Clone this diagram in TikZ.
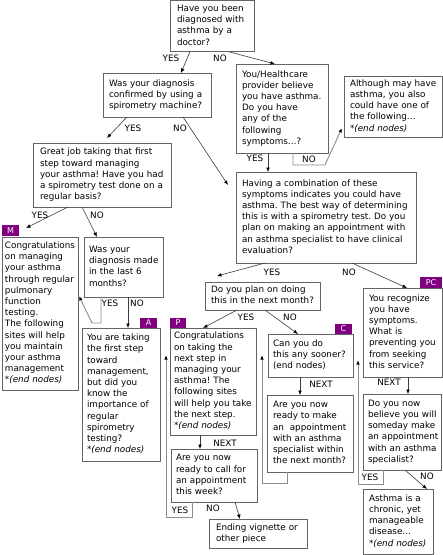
\documentclass[tikz,border=0pt]{standalone}
\usepackage{fontspec}
\setmainfont{DejaVu Sans}
\usetikzlibrary{arrows.meta}
\definecolor{tagpurple}{RGB}{128,0,128}
\definecolor{boxline}{RGB}{100,100,100}
\definecolor{conline}{RGB}{60,60,60}
\definecolor{brkline}{RGB}{140,140,140}
\newcommand\lns[1]{\begin{tabular}{@{}l@{}}#1\end{tabular}}
\frenchspacing
\begin{document}
\begin{tikzpicture}[x=1pt,y=-1pt,
  qbox/.style={draw=boxline, line width=0.9pt, anchor=north west, inner ysep=0pt, outer sep=0pt, align=left, font=\fontsize{8.8}{11.2}\selectfont\frenchspacing, fill=white},
  tag/.style={fill=tagpurple, text=white, anchor=north west, inner sep=0pt, outer sep=0pt, font=\fontsize{8}{9}\selectfont},
  lbl/.style={font=\fontsize{8.8}{11.2}\selectfont, inner sep=0pt},
  arr/.style={draw=conline, line width=0.6pt, -{Latex[length=4.5pt,width=3.6pt,color=black]}},
  brk/.style={draw=brkline, line width=0.9pt, -{Latex[length=4.5pt,width=3.6pt,color=black]}}]
\fill[white] (0,0) rectangle (443,555);
\useasboundingbox (0,0) rectangle (443,555);

% boxes
\node[qbox, inner xsep=7pt, text width=70pt, minimum height=51pt] (q1) at (170,0.5) {\lns{Have you been\\diagnosed with\\asthma by a\\doctor?}};
\node[qbox, inner xsep=6pt, text width=96pt, minimum height=44pt] (q2) at (103,73) {\lns{Was your diagnosis\\confirmed by using a\\spirometry machine?}};
\node[qbox, inner xsep=6pt, text width=80pt, minimum height=89pt] (q3) at (236,64) {\lns{You/Healthcare\\provider believe\\you have asthma.\\Do you have\\any of the\\following\\symptoms…?}};
\node[qbox, inner xsep=6pt, text width=86pt, minimum height=61pt] (q4) at (344,76) {\lns{Although may have\\asthma, you also\\could have one of\\the following…\\\textit{*(end nodes)}}};
\node[qbox, inner xsep=7pt, text width=124pt, minimum height=64pt] (q5) at (33,143) {\lns{Great job taking that first\\step toward managing\\your asthma! Have you had\\a spirometry test done on a\\regular basis?}};
\node[qbox, inner xsep=6pt, text width=168pt, minimum height=91pt] (q6) at (236,172) {\lns{Having a combination of these\\symptoms indicates you could have\\asthma. The best way of determining\\this is with a spirometry test. Do you\\plan on making an appointment with\\an asthma specialist to have clinical\\evaluation?}};
\node[qbox, inner xsep=5pt, text width=69pt, minimum height=60pt] (q7) at (84,237) {\lns{Was your\\diagnosis made\\in the last 6\\months?}};
\node[qbox, inner xsep=3pt, text width=70pt, minimum height=153pt] (M) at (2,237) {\lns{Congratulations\\on managing\\your asthma\\through regular\\pulmonary\\function\\testing.\\The following\\sites will help\\you maintain\\your asthma\\management\\\textit{*(end nodes)}}};
\node[qbox, inner xsep=5pt, text width=68pt, minimum height=133pt] (A) at (82,328) {\lns{You are taking\\the first step\\toward\\management,\\but did you\\know the\\importance of\\regular\\spirometry\\testing?\\\textit{*(end nodes)}}};
\node[qbox, inner xsep=4pt, text width=78pt, minimum height=107pt] (P) at (170,328) {\lns{Congratulations\\on taking the\\next step in\\managing your\\asthma! The\\following sites\\will help you take\\the next step.\\\textit{*(end nodes)}}};
\node[qbox, inner xsep=6pt, text width=103pt, minimum height=28pt] (q8) at (205,282) {\lns{Do you plan on doing\\this in the next month?}};
\node[qbox, inner xsep=5pt, text width=75pt, minimum height=43pt] (C) at (268,334) {\lns{Can you do\\this any sooner?\\*(end nodes)}};
\node[qbox, inner xsep=6pt, text width=67pt, minimum height=89pt] (PC) at (363,288) {\lns{You recognize\\you have\\symptoms.\\What is\\preventing you\\from seeking\\this service?}};
\node[qbox, inner xsep=6pt, text width=74pt, minimum height=77pt] (q10) at (267,395) {\lns{Are you now\\ready to make\\an\ \ appointment\\with an asthma\\specialist within\\the next month?}};
\node[qbox, inner xsep=5pt, text width=68pt, minimum height=76pt] (q9) at (363,394) {\lns{Do you now\\believe you will\\someday make\\an appointment\\with an asthma\\specialist?}};
\node[qbox, inner xsep=5pt, text width=76pt, minimum height=53pt] (q11) at (171,449) {\lns{Are you now\\ready to call for\\an appointment\\this week?}};
\node[qbox, inner xsep=7pt, text width=84pt, minimum height=29pt] (End) at (209,519) {\lns{Ending vignette or\\other piece}};
\node[qbox, inner xsep=6pt, text width=58pt, minimum height=65pt] (As) at (363,489) {\lns{Asthma is a\\chronic, yet\\manageable\\disease…\\\textit{*(end nodes)}}};

% tags
\node[tag, minimum width=17pt, minimum height=11pt] (Mt) at (2,225) {M};
\node[tag, minimum width=17pt, minimum height=10pt] (At) at (140,317.5) {A};
\node[tag, minimum width=16pt, minimum height=10pt] (Pt) at (170,317.5) {P};
\node[tag, minimum width=17pt, minimum height=10pt] (Ct) at (335,323.5) {C};
\node[tag, minimum width=22pt, minimum height=11pt] (PCt) at (420,277) {PC};

% connectors
\draw[arr] ([xshift=20pt]q1.south west) -- ([xshift=78pt]q2.north west);
\draw[arr] ([xshift=58pt]q1.south west) -- ([xshift=39pt]q3.north west);
\draw[arr] ([xshift=24pt]q2.south west) -- ([xshift=74pt,yshift=5pt]q5.north west);
\draw[arr] ([xshift=80pt]q2.south west) -- ([xshift=-8pt,yshift=-13pt]q6.north west);
\draw[arr] ([xshift=32pt]q3.south west) -- ([xshift=32pt]q6.north west);
\draw[brk] ([xshift=57pt]q3.south west) -- ++(0,12) -- ++(32,0) -- ([xshift=-2pt,yshift=9pt]q4.south west);
\draw[arr] ([xshift=35pt]q5.south west) -- ([xshift=7pt,yshift=-3pt]Mt.north east);
\draw[arr] ([xshift=49pt]q5.south west) -- ([xshift=13pt]q7.north west);
\draw[brk] ([xshift=17pt]q7.south west) -- ++(0,26) -- ++(-9,0) -- ([xshift=1pt,yshift=-59pt]M.north east);
\draw[arr] ([xshift=44pt]q7.south west) -- ([xshift=46pt]A.north west);
\draw[arr] ([xshift=29pt]q6.south west) -- ([xshift=12pt,yshift=6pt]q8.north west);
\draw[arr] ([xshift=116pt]q6.south west) -- ([xshift=44pt]PC.north west);
\draw[arr] ([xshift=32pt]q8.south west) -- ([xshift=33pt]P.north west);
\draw[arr] ([xshift=60pt]q8.south west) -- ([xshift=30pt]C.north west);
\draw[arr] ([xshift=30pt]P.south west) -- ([xshift=29pt]q11.north west);
\draw[arr] ([xshift=32pt]C.south west) -- ([xshift=33pt]q10.north west);
\draw[arr] ([xshift=45pt]PC.south west) -- ([xshift=45pt]q9.north west);
\draw[brk] ([xshift=20pt]q10.south west) -- ++(0,11) -- ++(-25,0) -- ([xshift=6pt,yshift=-27pt]P.north east);
\draw[brk] ([xshift=21pt]q11.south west) -- ++(0,15) -- ++(-26,0) -- ([xshift=6pt,yshift=-27pt]A.north east);
\draw[arr] ([xshift=64pt]q11.south west) -- ([xshift=31pt]End.north west);
\draw[brk] ([xshift=20pt]q9.south west) -- ++(0,14) -- ++(-25,0) -- ([xshift=5pt,yshift=-26pt]C.north east);
\draw[arr] ([xshift=42pt]q9.south west) -- ([xshift=64pt]As.north west);

% labels
\node[lbl] (l1y) at (171,58) {YES};
\node[lbl] (l1n) at (220,58) {NO};
\node[lbl] (l2y) at (133,128) {YES};
\node[lbl] (l2n) at (180,128) {NO};
\node[lbl] (l3y) at (255,158) {YES};
\node[lbl] (l3n) at (309,159) {NO};
\node[lbl] (l5y) at (40,215) {YES};
\node[lbl] (l5n) at (97,215) {NO};
\node[lbl] (l7y) at (110,303) {YES};
\node[lbl] (l7n) at (137,303) {NO};
\node[lbl] (l6y) at (272,272) {YES};
\node[lbl] (l6n) at (349,272) {NO};
\node[lbl] (l8y) at (246,317) {YES};
\node[lbl] (l8n) at (290,317) {NO};
\node[lbl] (lpn) at (225,443) {NEXT};
\node[lbl] (lcn) at (321,384) {NEXT};
\node[lbl] (lpcn) at (389,382) {NEXT};
\node[lbl] (l11y) at (180,510) {YES};
\node[lbl] (l11n) at (213,508) {NO};
\node[lbl] (l9y) at (370,477) {YES};
\node[lbl] (l9n) at (427,476) {NO};
\end{tikzpicture}
\end{document}
